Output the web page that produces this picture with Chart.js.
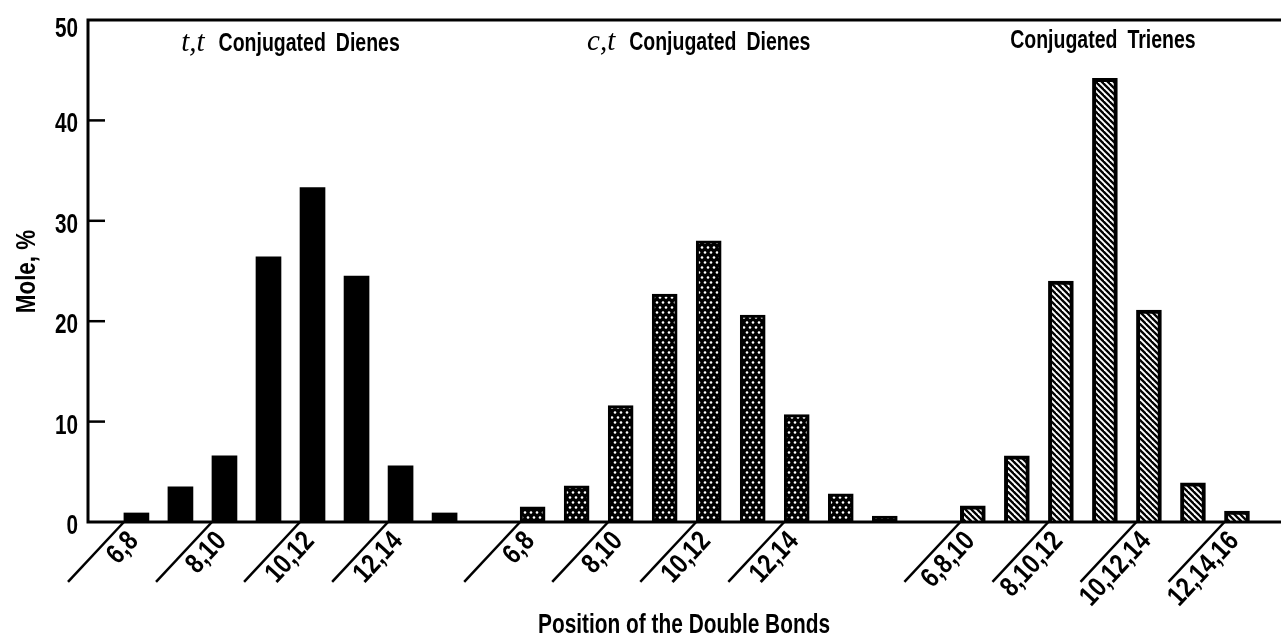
<!DOCTYPE html>
<html><head><meta charset="utf-8">
<script src="https://cdn.jsdelivr.net/npm/chart.js@4"></script>
<style>html,body{margin:0;padding:0;background:#fff}canvas{display:block}</style>
</head><body>
<canvas id="c" width="1281" height="635"></canvas>
<script>
// ---- data ----
const ttCategories = ['6,8','7,9','8,10','9,11','10,12','11,13','12,14','13,15'];
const ttValues     = [0.9, 3.5, 6.6, 26.4, 33.3, 24.5, 5.6, 0.9];
const ctCategories = ['6,8','7,9','8,10','9,11','10,12','11,13','12,14','13,15','14,16'];
const ctValues     = [1.5, 3.6, 11.6, 22.7, 28.0, 20.6, 10.7, 2.8, 0.6];
const trCategories = ['6,8,10','7,9,11','8,10,12','9,11,13','10,12,14','11,13,15','12,14,16'];
const trValues     = [1.6, 6.6, 24.0, 44.2, 21.1, 3.9, 1.1];
const ttTickLabels = ['6,8','8,10','10,12','12,14'];
const ctTickLabels = ['6,8','8,10','10,12','12,14'];
const trTickLabels = ['6,8,10','8,10,12','10,12,14','12,14,16'];
const yTickValues  = [0, 10, 20, 30, 40, 50];
const groupTitles  = [['t,t', 'Conjugated Dienes'], ['c,t', 'Conjugated Dienes'], ['', 'Conjugated Trienes']];
const xAxisTitle = 'Position of the Double Bonds';
const yAxisTitle = 'Mole, %';

// ---- layout / style ----
const BAR_W = 25;
const ANGLE = 47 * Math.PI / 180;
const LINE_LEN = 82;
const TITLE_OFFSETS = [0, -10, -2];
const SANS = '"Liberation Sans", Arial, sans-serif';
const SERIF = '"Liberation Serif", "Times New Roman", serif';

function makeDots() {
  const w = 12, h = 10;
  const c = document.createElement('canvas'); c.width = w; c.height = h;
  const g = c.getContext('2d');
  g.fillStyle = '#000'; g.fillRect(0, 0, w, h);
  g.fillStyle = '#fff';
  [[3, 2.5], [9, 2.5], [0, 7.5], [6, 7.5], [12, 7.5]].forEach(([x, y]) => {
    g.beginPath(); g.arc(x, y, 1.3, 0, Math.PI * 2); g.fill();
  });
  return g.createPattern(c, 'repeat');
}
function makeHatch() {
  const s = 6;
  const c = document.createElement('canvas'); c.width = s; c.height = s;
  const g = c.getContext('2d');
  g.fillStyle = '#fff'; g.fillRect(0, 0, s, s);
  g.strokeStyle = '#000'; g.lineWidth = 2.3;
  [-s, 0, s].forEach(k => { g.beginPath(); g.moveTo(k - 1, -1); g.lineTo(k + s + 1, s + 1); g.stroke(); });
  return g.createPattern(c, 'repeat');
}

const groups = [
  { cats: ttCategories, vals: ttValues, ticks: ttTickLabels },
  { cats: ctCategories, vals: ctValues, ticks: ctTickLabels },
  { cats: trCategories, vals: trValues, ticks: trTickLabels }
];
let slot = 0;
groups.forEach(g => { g.start = slot; slot += g.cats.length + 1; });

const fills = ['#000', makeDots(), makeHatch()];
const borders = [0, 3, 4];

const datasets = groups.map((g, gi) => ({
  label: groupTitles[gi].join(' ').trim(),
  data: g.vals.map((v, i) => ({ x: g.start + i, y: v })),
  backgroundColor: fills[gi],
  borderColor: '#000',
  borderWidth: borders[gi],
  borderSkipped: 'bottom'
}));

function condText(ctx, text, x, y, sx, align) {
  ctx.save();
  ctx.translate(x, y);
  ctx.scale(sx, 1);
  ctx.textAlign = align;
  ctx.fillText(text, 0, 0);
  ctx.restore();
}

const decor = {
  id: 'decor',
  afterDatasetsDraw(chart) {
    const ctx = chart.ctx, a = chart.chartArea;
    const xs = chart.scales.x, ys = chart.scales.y;
    ctx.save();
    ctx.strokeStyle = '#000'; ctx.fillStyle = '#000';
    ctx.lineCap = 'butt';
    // frame
    ctx.lineWidth = 3;
    ctx.beginPath();
    ctx.moveTo(a.right, ys.getPixelForValue(50));
    ctx.lineTo(a.left, ys.getPixelForValue(50));
    ctx.lineTo(a.left, ys.getPixelForValue(0));
    ctx.lineTo(a.right, ys.getPixelForValue(0));
    ctx.stroke();
    // y ticks & labels
    ctx.lineWidth = 2.5;
    ctx.font = 'bold 28px ' + SANS;
    ctx.textBaseline = 'alphabetic';
    yTickValues.forEach(v => {
      const y = ys.getPixelForValue(v);
      if (v > 0 && v < 50) {
        ctx.beginPath(); ctx.moveTo(a.left, y); ctx.lineTo(a.left + 17, y); ctx.stroke();
      }
      const dy = v === 50 ? 17 : 12;
      condText(ctx, String(v), a.left - 10, y + dy, 0.74, 'right');
    });
    // x tick lines + rotated labels
    const base = ys.getPixelForValue(0);
    groups.forEach(g => {
      g.ticks.forEach(t => {
        const s = g.start + g.cats.indexOf(t);
        const px = xs.getPixelForValue(s) - BAR_W / 2;
        ctx.save();
        ctx.translate(px, base);
        ctx.rotate(-ANGLE);
        ctx.lineWidth = 2.5;
        ctx.beginPath(); ctx.moveTo(0, 0); ctx.lineTo(-LINE_LEN, 0); ctx.stroke();
        ctx.translate(-4, 25);
        ctx.scale(0.82, 1);
        ctx.font = 'bold 28px ' + SANS;
        ctx.textAlign = 'right';
        ctx.textBaseline = 'alphabetic';
        ctx.fillText(t, 0, 0);
        ctx.restore();
      });
    });
    // group titles
    const baselines = [51, 50, 48];
    groups.forEach((g, gi) => {
      const cx = (xs.getPixelForValue(g.start) + xs.getPixelForValue(g.start + g.cats.length - 1)) / 2 + TITLE_OFFSETS[gi];
      const [it, bd] = groupTitles[gi];
      ctx.font = 'italic 29px ' + SERIF;
      const wi = it ? ctx.measureText(it).width : 0;
      const gap = it ? 14 : 0;
      ctx.font = 'bold 26px ' + SANS;
      const words = bd.split(' ');
      const sx = 0.75, wgap = 10;
      const ww = words.map(w => ctx.measureText(w).width * sx);
      const wb = ww.reduce((p, c) => p + c, 0) + wgap * (words.length - 1);
      let x = cx - (wi + gap + wb) / 2;
      const by = baselines[gi];
      ctx.textBaseline = 'alphabetic';
      if (it) {
        ctx.font = 'italic 29px ' + SERIF;
        ctx.textAlign = 'left';
        ctx.fillText(it, x, by);
        x += wi + gap;
      }
      ctx.font = 'bold 26px ' + SANS;
      words.forEach((w, i) => {
        condText(ctx, w, x, by, sx, 'left');
        x += ww[i] + wgap;
      });
    });
    // axis titles
    ctx.font = 'bold 28px ' + SANS;
    condText(ctx, xAxisTitle, 684, 633, 0.745, 'center');
    ctx.save();
    ctx.translate(35, 271.5);
    ctx.rotate(-Math.PI / 2);
    ctx.scale(0.8, 1);
    ctx.textAlign = 'center';
    ctx.fillText(yAxisTitle, 0, 0);
    ctx.restore();
    ctx.restore();
  }
};

new Chart(document.getElementById('c'), {
  type: 'bar',
  data: { datasets },
  options: {
    responsive: false,
    animation: false,
    devicePixelRatio: 1,
    layout: { padding: { left: 88, right: 0, top: 20, bottom: 113 } },
    datasets: { bar: { grouped: false, barThickness: BAR_W } },
    plugins: { legend: { display: false }, tooltip: { enabled: false }, title: { display: false } },
    scales: {
      x: { type: 'linear', min: -1.1, max: 26.0, offset: false, bounds: 'ticks', display: false },
      y: { type: 'linear', min: 0, max: 50, display: false }
    }
  },
  plugins: [decor]
});
</script>
</body></html>
